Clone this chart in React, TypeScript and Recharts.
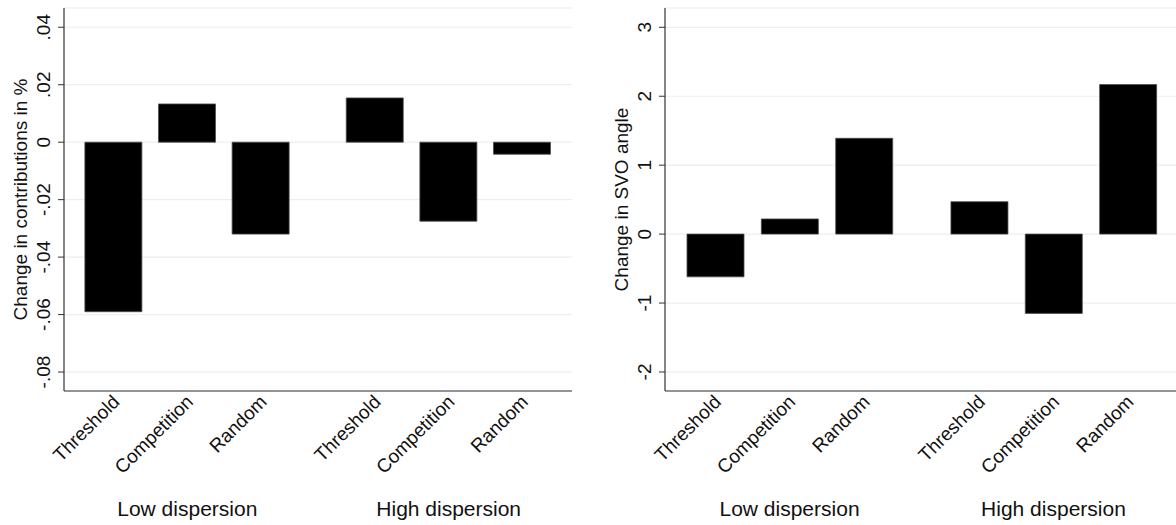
import React from 'react'
import { BarChart, Bar, XAxis, YAxis, CartesianGrid } from 'recharts'

const treatments = ['Threshold', 'Competition', 'Random']
const dispersions = ['Low dispersion', 'High dispersion']

// low dispersion first, then high dispersion (same treatment order)
const contribChange = [-0.059, 0.0133, -0.032, 0.0154, -0.0275, -0.0042]
const svoChange = [-0.62, 0.22, 1.39, 0.47, -1.15, 2.17]

const contribTicks = [-0.08, -0.06, -0.04, -0.02, 0, 0.02, 0.04]
const svoTicks = [-2, -1, 0, 1, 2, 3]

const GROUP_GAP = 0.55
const EDGE = 0.675
const FONT = '"Liberation Sans", Arial, Helvetica, sans-serif'
const INK = '#111'
const AXIS = '#333'
const GRID = '#e9f0f1'

const slotPos = (i: number) =>
  Math.floor(i / treatments.length) * (treatments.length + GROUP_GAP) +
  (i % treatments.length)

const nBars = treatments.length * dispersions.length
const xTicks = Array.from({ length: nBars }, (_, i) => slotPos(i))
const xDomain = [-EDGE, slotPos(nBars - 1) + EDGE]

const makeRows = (values: number[]) =>
  values.map((v, i) => ({ pos: slotPos(i), value: v }))

const stataNum = (v: number) => {
  if (v === 0) return '0'
  if (Number.isInteger(v)) return String(v)
  return v.toFixed(2).replace(/^(-?)0\./, '$1.')
}

const CategoryTick = (props: any) => {
  const { x, y, payload } = props
  const i = xTicks.findIndex((t) => Math.abs(t - payload.value) < 1e-6)
  if (i < 0) return null
  const ax = x + 7
  const ay = y + 12
  const k = treatments.length
  return (
    <g>
      <text
        x={ax}
        y={ay}
        transform={`rotate(-45, ${ax}, ${ay})`}
        textAnchor='end'
        fontSize={19}
        fontFamily={FONT}
        fill={INK}
      >
        {treatments[i % k]}
      </text>
      {i % k === Math.floor(k / 2) && (
        <text
          x={x}
          y={y + 125}
          textAnchor='middle'
          fontSize={21}
          fontFamily={FONT}
          fill={INK}
        >
          {dispersions[Math.floor(i / k)]}
        </text>
      )}
    </g>
  )
}

const ValueTick = (props: any) => {
  const { x, y, payload } = props
  const tx = x - 8
  return (
    <text
      x={tx}
      y={y}
      transform={`rotate(-90, ${tx}, ${y})`}
      textAnchor='middle'
      fontSize={19}
      fontFamily={FONT}
      fill={INK}
    >
      {stataNum(payload.value)}
    </text>
  )
}

const axisTitle = (text: string) => ({
  content: (props: any) => {
    const vb = props.viewBox
    const cx = vb.x + vb.width - 37
    const cy = vb.y + vb.height / 2
    return (
      <text
        x={cx}
        y={cy}
        transform={`rotate(-90, ${cx}, ${cy})`}
        textAnchor='middle'
        fontSize={19}
        fontFamily={FONT}
        fill={INK}
      >
        {text}
      </text>
    )
  },
})

interface PanelProps {
  values: number[]
  ticks: number[]
  domain: number[]
  title: string
  width: number
  yWidth: number
}

const Panel = ({ values, ticks, domain, title, width, yWidth }: PanelProps) => (
  <BarChart
    width={width}
    height={525}
    data={makeRows(values)}
    margin={{ top: 8, right: 0, bottom: 0, left: 0 }}
  >
    <CartesianGrid vertical={false} stroke={GRID} strokeWidth={1.2} />
    <XAxis
      dataKey='pos'
      type='number'
      domain={xDomain}
      ticks={xTicks}
      interval={0}
      height={134}
      tickLine={false}
      tickSize={0}
      tickMargin={0}
      axisLine={{ stroke: AXIS, strokeWidth: 1.2 }}
      tick={<CategoryTick />}
    />
    <YAxis
      type='number'
      domain={domain}
      ticks={ticks}
      interval={0}
      width={yWidth}
      tickSize={6}
      tickMargin={0}
      tickLine={{ stroke: AXIS, strokeWidth: 1 }}
      axisLine={{ stroke: AXIS, strokeWidth: 1.2 }}
      tick={<ValueTick />}
      label={axisTitle(title)}
    />
    <Bar
      dataKey='value'
      fill='#000'
      stroke='#4d4d4d'
      strokeWidth={0.8}
      barSize={57}
      isAnimationActive={false}
    />
  </BarChart>
)

export default function App() {
  return (
    <div
      style={{
        position: 'absolute',
        left: 0,
        top: 0,
        width: 1176,
        height: 525,
        overflow: 'hidden',
        background: '#fff',
      }}
    >
      <div style={{ position: 'absolute', left: 0, top: 0 }}>
        <Panel
          values={contribChange}
          ticks={contribTicks}
          domain={[-0.0866, 0.0467]}
          title='Change in contributions in %'
          width={572}
          yWidth={64}
        />
      </div>
      <div style={{ position: 'absolute', left: 599, top: 0 }}>
        <Panel
          values={svoChange}
          ticks={svoTicks}
          domain={[-2.276, 3.28]}
          title='Change in SVO angle'
          width={579}
          yWidth={66}
        />
      </div>
    </div>
  )
}
